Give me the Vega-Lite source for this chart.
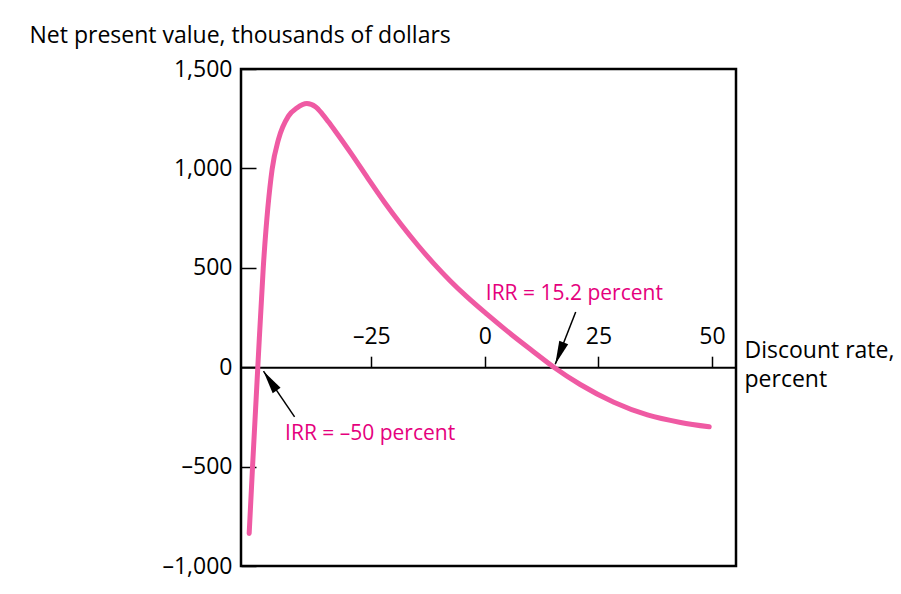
{
  "$schema": "https://vega.github.io/schema/vega-lite/v6.json",
  "width": 495,
  "height": 497,
  "autosize": "none",
  "padding": {"left": 241, "top": 69, "right": 165, "bottom": 28},
  "background": "white",
  "config": {
    "view": {"stroke": "black", "strokeWidth": 2.5},
    "font": "Open Sans"
  },
  "datasets": {
    "curve": [
      {"rate": -51.9, "npv": -836},
      {"rate": -51.15, "npv": -498},
      {"rate": -50, "npv": 0},
      {"rate": -48.8, "npv": 500},
      {"rate": -46.85, "npv": 995},
      {"rate": -45.43, "npv": 1147},
      {"rate": -43.26, "npv": 1263},
      {"rate": -41.4, "npv": 1304},
      {"rate": -39.2, "npv": 1326},
      {"rate": -37.3, "npv": 1310},
      {"rate": -35.87, "npv": 1276},
      {"rate": -34.5, "npv": 1236},
      {"rate": -33.04, "npv": 1191},
      {"rate": -29.35, "npv": 1072},
      {"rate": -25.72, "npv": 949},
      {"rate": -22.11, "npv": 830},
      {"rate": -18.48, "npv": 719},
      {"rate": -14.85, "npv": 616},
      {"rate": -11.24, "npv": 521},
      {"rate": -7.61, "npv": 434},
      {"rate": -3.98, "npv": 355},
      {"rate": 0.38, "npv": 268},
      {"rate": 6.26, "npv": 157},
      {"rate": 10.5, "npv": 82},
      {"rate": 15.2, "npv": 0},
      {"rate": 21.0, "npv": -87},
      {"rate": 28.4, "npv": -176},
      {"rate": 35.8, "npv": -240},
      {"rate": 43.1, "npv": -278},
      {"rate": 49.4, "npv": -300}
    ],
    "labels": [
      {"id": "a", "label": "IRR = 15.2 percent", "rate": 0.2, "npv": 338},
      {"id": "b", "label": "IRR = –50 percent", "rate": -44.0, "npv": -368}
    ],
    "arrows": [
      {"id": "a", "tail_rate": 20.0, "tail_npv": 278, "tip_rate": 15.5, "tip_npv": 15},
      {"id": "b", "tail_rate": -41.9, "tail_npv": -250, "tip_rate": -48.75, "tip_npv": -20}
    ]
  },
  "encoding": {
    "x": {
      "type": "quantitative",
      "scale": {"domain": [-53.7, 55.3], "nice": false, "zero": false}
    },
    "y": {
      "type": "quantitative",
      "scale": {"domain": [-1000, 1500], "nice": false}
    }
  },
  "layer": [
    {
      "data": {"name": "curve"},
      "mark": {"type": "line", "color": "#ef5aa3", "strokeWidth": 5, "interpolate": "monotone", "strokeCap": "round", "clip": true},
      "encoding": {
        "x": {
          "field": "rate",
          "type": "quantitative",
          "axis": {
            "orient": "top",
            "offset": {"expr": "-scale('y', 0)"},
            "values": [-25, 0, 25, 50],
            "grid": false,
            "domainColor": "black",
            "domainWidth": 2,
            "tickColor": "black",
            "tickSize": 11,
            "tickWidth": 1.5,
            "labelPadding": 8,
            "labelFontSize": 23,
            "labelColor": "black",
            "labelFont": "Open Sans",
            "labelExpr": "replace(format(datum.value, ','), '−', '–')",
            "title": ["Discount rate,", "percent"],
            "titleFont": "Open Sans",
            "titleFontSize": 23,
            "titleFontWeight": "normal",
            "titleColor": "black",
            "titleAlign": "left",
            "titleBaseline": "alphabetic",
            "titleAngle": 0,
            "titleX": 503,
            "titleY": -10,
            "titleLineHeight": 29
          }
        },
        "y": {
          "field": "npv",
          "type": "quantitative",
          "axis": {
            "values": [-1000, -500, 0, 500, 1000, 1500],
            "grid": false,
            "domain": false,
            "tickColor": "black",
            "tickSize": -15,
            "tickWidth": 1.5,
            "labelPadding": 24,
            "labelFontSize": 23,
            "labelColor": "black",
            "labelFont": "Open Sans",
            "labelExpr": "replace(format(datum.value, ','), '−', '–')",
            "title": "Net present value, thousands of dollars",
            "titleFont": "Open Sans",
            "titleFontSize": 23,
            "titleFontWeight": "normal",
            "titleColor": "black",
            "titleAngle": 0,
            "titleAlign": "left",
            "titleBaseline": "alphabetic",
            "titleX": -212,
            "titleY": -27
          }
        }
      }
    },
    {
      "data": {"name": "arrows"},
      "mark": {"type": "rule", "color": "black", "strokeWidth": 1.5},
      "encoding": {
        "x": {"field": "tail_rate", "type": "quantitative"},
        "y": {"field": "tail_npv", "type": "quantitative"},
        "x2": {"field": "tip_rate"},
        "y2": {"field": "tip_npv"}
      }
    },
    {
      "data": {"name": "arrows"},
      "mark": {"type": "point", "filled": true, "color": "black", "opacity": 1, "size": 450, "shape": "M0,0 L-0.45,2.2 L0.45,2.2 Z"},
      "encoding": {
        "x": {"field": "tip_rate", "type": "quantitative"},
        "y": {"field": "tip_npv", "type": "quantitative"},
        "angle": {"condition": {"test": "datum.id === 'a'", "value": 201.3}, "value": 325.7}
      }
    },
    {
      "data": {"name": "labels"},
      "mark": {"type": "text", "color": "#e5007d", "font": "Open Sans", "fontSize": 21, "align": "left", "baseline": "alphabetic"},
      "encoding": {
        "x": {"field": "rate", "type": "quantitative"},
        "y": {"field": "npv", "type": "quantitative"},
        "text": {"field": "label"}
      }
    }
  ]
}
